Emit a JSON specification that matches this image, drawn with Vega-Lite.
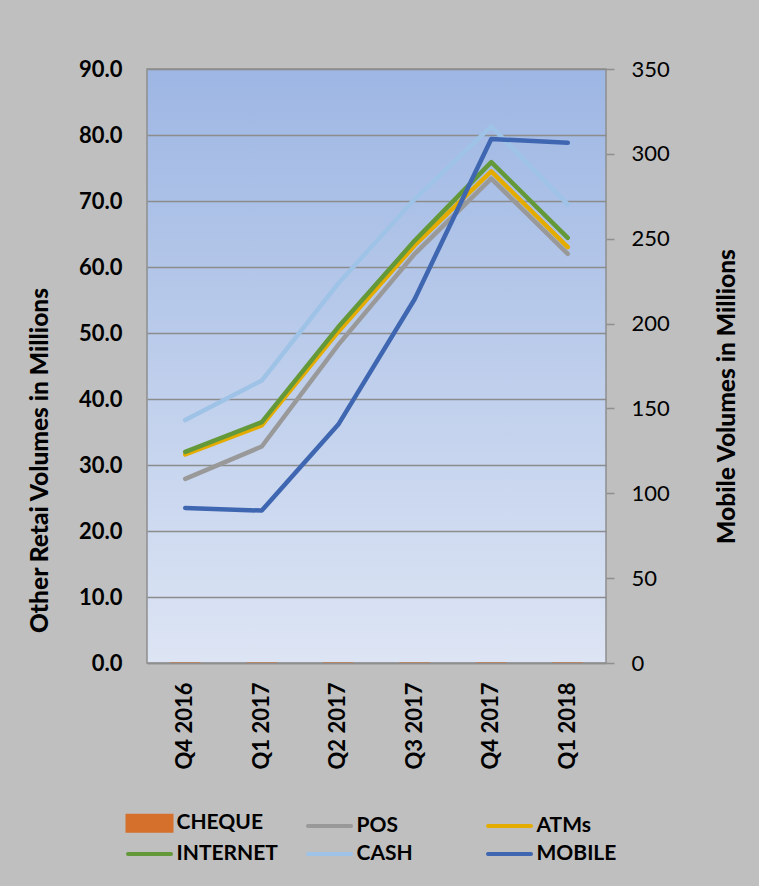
{
  "$schema": "https://vega.github.io/schema/vega-lite/v6.json",
  "width": 459,
  "height": 594,
  "autosize": {"type": "none"},
  "padding": {"left": 147, "top": 69, "right": 153, "bottom": 223},
  "background": "#bfbfbf",
  "config": {
    "font": "Lato",
    "view": {
      "fill": {
        "gradient": "linear", "x1": 0, "y1": 0, "x2": 0, "y2": 1,
        "stops": [{"offset": 0, "color": "#9db6e3"}, {"offset": 1, "color": "#dde5f4"}]
      },
      "stroke": "#8f8f8f",
      "strokeWidth": 1.5
    },
    "axis": {"labelColor": "#000000", "titleColor": "#000000", "labelFontSize": 22, "titleFontSize": 24.5, "titleFontWeight": 900}
  },
  "data": {
    "values": [
      {"q": "Q4 2016", "s": "CHEQUE", "v": 0.12},
      {"q": "Q1 2017", "s": "CHEQUE", "v": 0.12},
      {"q": "Q2 2017", "s": "CHEQUE", "v": 0.12},
      {"q": "Q3 2017", "s": "CHEQUE", "v": 0.12},
      {"q": "Q4 2017", "s": "CHEQUE", "v": 0.12},
      {"q": "Q1 2018", "s": "CHEQUE", "v": 0.12},
      {"q": "Q4 2016", "s": "POS", "v": 27.9},
      {"q": "Q1 2017", "s": "POS", "v": 32.8},
      {"q": "Q2 2017", "s": "POS", "v": 48.2},
      {"q": "Q3 2017", "s": "POS", "v": 62.0},
      {"q": "Q4 2017", "s": "POS", "v": 73.4},
      {"q": "Q1 2018", "s": "POS", "v": 62.0},
      {"q": "Q4 2016", "s": "ATMs", "v": 31.6},
      {"q": "Q1 2017", "s": "ATMs", "v": 36.0},
      {"q": "Q2 2017", "s": "ATMs", "v": 50.2},
      {"q": "Q3 2017", "s": "ATMs", "v": 63.3},
      {"q": "Q4 2017", "s": "ATMs", "v": 74.5},
      {"q": "Q1 2018", "s": "ATMs", "v": 63.0},
      {"q": "Q4 2016", "s": "INTERNET", "v": 32.0},
      {"q": "Q1 2017", "s": "INTERNET", "v": 36.5},
      {"q": "Q2 2017", "s": "INTERNET", "v": 50.9},
      {"q": "Q3 2017", "s": "INTERNET", "v": 64.0},
      {"q": "Q4 2017", "s": "INTERNET", "v": 75.9},
      {"q": "Q1 2018", "s": "INTERNET", "v": 64.4},
      {"q": "Q4 2016", "s": "CASH", "v": 36.8},
      {"q": "Q1 2017", "s": "CASH", "v": 42.8},
      {"q": "Q2 2017", "s": "CASH", "v": 57.5},
      {"q": "Q3 2017", "s": "CASH", "v": 70.3},
      {"q": "Q4 2017", "s": "CASH", "v": 81.3},
      {"q": "Q1 2018", "s": "CASH", "v": 69.5},
      {"q": "Q4 2016", "s": "MOBILE", "v": 91.3},
      {"q": "Q1 2017", "s": "MOBILE", "v": 89.8},
      {"q": "Q2 2017", "s": "MOBILE", "v": 140.5},
      {"q": "Q3 2017", "s": "MOBILE", "v": 214.5},
      {"q": "Q4 2017", "s": "MOBILE", "v": 308.8},
      {"q": "Q1 2018", "s": "MOBILE", "v": 306.5}
    ]
  },
  "encoding": {
    "x": {
      "field": "q", "type": "ordinal",
      "sort": ["Q4 2016", "Q1 2017", "Q2 2017", "Q3 2017", "Q4 2017", "Q1 2018"],
      "scale": {"paddingInner": 0.6, "paddingOuter": 0.3},
      "axis": {"title": null, "labelAngle": -90, "labelFontWeight": "bold", "ticks": false, "labelPadding": 19, "domainColor": "#8f8f8f", "domainWidth": 1.5}
    },
    "color": {
      "field": "s", "type": "nominal",
      "scale": {
        "domain": ["CHEQUE", "POS", "ATMs", "INTERNET", "CASH", "MOBILE"],
        "range": ["#d5702c", "#999999", "#e5ac00", "#64993a", "#9fc3e6", "#3f66b0"]
      },
      "legend": {
        "orient": "none", "legendX": -22, "legendY": 742,
        "title": null, "columns": 3, "direction": "horizontal",
        "gridAlign": "all", "columnPadding": 22, "rowPadding": 3,
        "labelFontSize": 21, "labelFontWeight": "bold", "labelColor": "#000000",
        "symbolType": "stroke", "symbolSize": 400, "symbolStrokeWidth": 4,
        "symbolOffset": 12.5, "labelOffset": 15,
        "encode": {
          "symbols": {
            "update": {
              "shape": {"signal": "datum.value === 'CHEQUE' ? 'M-2.2,-0.75H2.2V0.75H-2.2Z' : 'M-2.15,0H2.15'"},
              "fill": {"signal": "datum.value === 'CHEQUE' ? scale('color', datum.value) : 'transparent'"},
              "stroke": {"signal": "datum.value === 'CHEQUE' ? 'transparent' : scale('color', datum.value)"},
              "strokeWidth": {"value": 4},
              "strokeCap": {"value": "round"}
            }
          }
        }
      }
    }
  },
  "layer": [
    {
      "encoding": {
        "y": {
          "field": "v", "type": "quantitative",
          "scale": {"domain": [0, 90], "nice": false},
          "axis": {
            "title": "Other Retai Volumes in  Millions",
            "values": [0, 10, 20, 30, 40, 50, 60, 70, 80, 90], "format": ".1f",
            "labelFontWeight": "bold", "labelPadding": 25, "ticks": false, "domain": false,
            "gridColor": "#8c8c8c", "gridWidth": 1.5,
            "titleAngle": 270, "titleAlign": "center", "titleBaseline": "middle",
            "titleX": -107, "titleY": 391
          }
        }
      },
      "layer": [
        {
          "transform": [{"filter": "datum.s === 'CHEQUE'"}],
          "mark": {"type": "bar", "opacity": 0.6}
        },
        {
          "transform": [{"filter": "datum.s !== 'CHEQUE' && datum.s !== 'MOBILE'"}],
          "mark": {"type": "line", "strokeWidth": 4.5, "strokeCap": "round", "strokeJoin": "round"}
        }
      ]
    },
    {
      "transform": [{"filter": "datum.s === 'MOBILE'"}],
      "mark": {"type": "line", "strokeWidth": 4.5, "strokeCap": "round", "strokeJoin": "round"},
      "encoding": {
        "y": {
          "field": "v", "type": "quantitative",
          "scale": {"domain": [0, 350], "nice": false},
          "axis": {
            "orient": "right", "title": "Mobile Volumes in Millions",
            "values": [0, 50, 100, 150, 200, 250, 300, 350],
            "grid": false, "domain": false, "tickSize": 8, "tickColor": "#8f8f8f", "tickWidth": 1.5,
            "labelPadding": 17, "labelFontWeight": "normal",
            "titleAngle": 270, "titleAlign": "center", "titleBaseline": "middle",
            "titleX": 121, "titleY": 327
          }
        }
      }
    }
  ],
  "resolve": {"scale": {"y": "independent"}}
}
